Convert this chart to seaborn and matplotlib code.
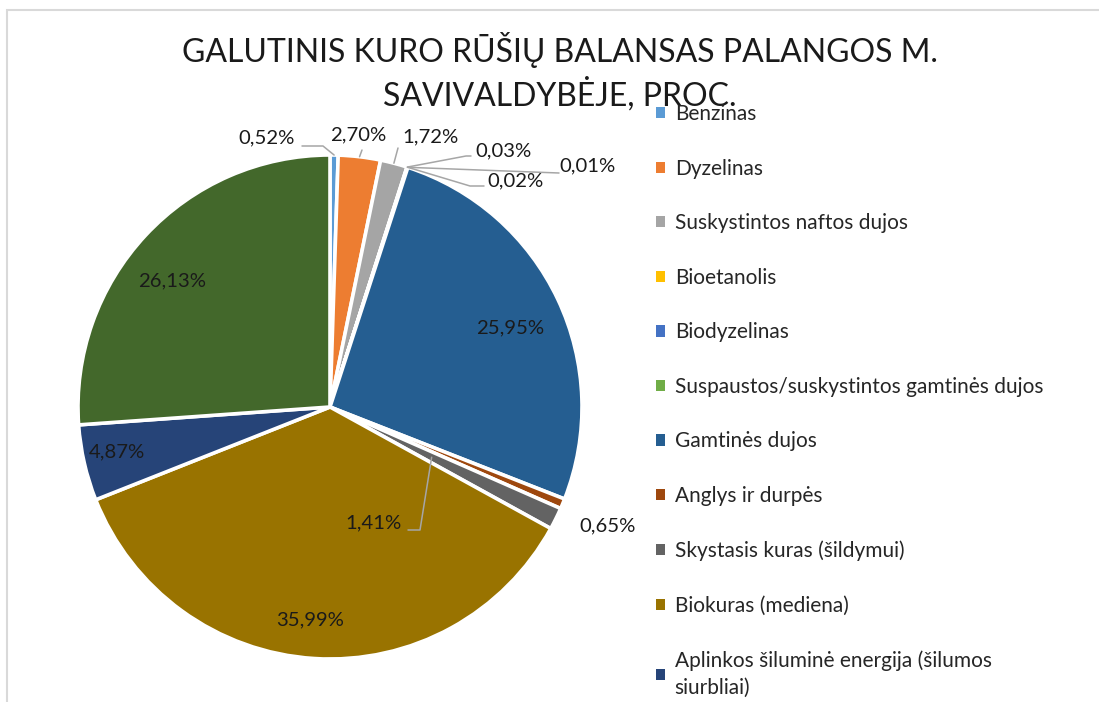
import numpy as np
import matplotlib.pyplot as plt
import matplotlib.patches as mpatches
import seaborn as sns

# Duomenys (proc.)
categories = [
    "Benzinas",
    "Dyzelinas",
    "Suskystintos naftos dujos",
    "Bioetanolis",
    "Biodyzelinas",
    "Suspaustos/suskystintos gamtinės dujos",
    "Gamtinės dujos",
    "Anglys ir durpės",
    "Skystasis kuras (šildymui)",
    "Biokuras (mediena)",
    "Aplinkos šiluminė energija (šilumos\nsiurbliai)",
    "Elektros energija",
]
shares = [0.52, 2.70, 1.72, 0.03, 0.02, 0.01, 25.95, 0.65, 1.41, 35.99, 4.87, 26.13]
colors = ["#5B9BD5", "#ED7D31", "#A5A5A5", "#FFC000", "#4472C4", "#70AD47",
          "#255E91", "#9E480E", "#636363", "#997300", "#264478", "#43682B"]

title = "GALUTINIS KURO RŪŠIŲ BALANSAS PALANGOS M.\nSAVIVALDYBĖJE, PROC."

sns.set_theme(style="white")
plt.rcParams["font.family"] = ["Lato", "DejaVu Sans"]

W, H = 1099, 702
fig = plt.figure(figsize=(W / 100, H / 100), dpi=100)

# pyrago centras ir spindulys pikseliais
cx, cy, R = 330, 407, 252
half = 262
ax = fig.add_axes([(cx - half) / W, (H - cy - half) / H, 2 * half / W, 2 * half / H])
lim = half / R
ax.axis("off")

wedges, _ = ax.pie(shares, colors=colors, startangle=90, counterclock=False, radius=1,
                   wedgeprops={"edgecolor": "white", "linewidth": 2.6})
ax.set_xlim(-lim, lim)
ax.set_ylim(-lim, lim)
ax.set_aspect("equal")


def px(x, y):  # pikseliai -> duomenų koordinatės
    return (x - cx) / R, (cy - y) / R


def mid_point(w, r=1.0):
    ang = np.deg2rad((w.theta1 + w.theta2) / 2)
    return r * np.cos(ang), r * np.sin(ang)


def fmt(v):
    return f"{v:.2f}".replace(".", ",") + "%"


lab_fs = 14.6
line_col = "#A6A6A6"

# vidinės etiketės
inside = {6: (510, 328), 9: (310, 620), 10: (117, 452), 11: (172, 281)}
for i, (x, y) in inside.items():
    ax.text(*px(x, y), fmt(shares[i]), ha="center", va="center", fontsize=lab_fs, color="#1a1a1a")

# išorinės etiketės su linijomis: teksto centras, linijos taškai (pikseliai)
outside = {
    0: ((267, 138), [(302, 146), (323, 146)]),
    1: ((358, 135), [(362, 150)]),
    2: ((431, 137), [(398, 148)]),
    3: ((504, 151), [(471, 156), (466, 156)]),
    4: ((516, 181), [(484, 186), (470, 186)]),
    5: ((588, 166), [(559, 173)]),
    7: ((608, 526), []),
    8: ((374, 523), [(408, 530), (420, 530)]),
}
for i, ((tx, ty), pts) in outside.items():
    ax.text(*px(tx, ty), fmt(shares[i]), ha="center", va="center", fontsize=lab_fs, color="#1a1a1a")
    if pts:
        r_end = 0.45 if i == 8 else 1.0
        xs = [px(*p)[0] for p in pts]
        ys = [px(*p)[1] for p in pts]
        ex, ey = mid_point(wedges[i], r_end)
        ax.plot(xs + [ex], ys + [ey], color=line_col, lw=1.1, clip_on=False, zorder=5)

# antraštė
fig.text(560 / W, 1 - 72 / H, title, ha="center", va="center", fontsize=23,
         linespacing=1.3, color="#1a1a1a")

# legenda
leg = fig.legend(wedges, categories, loc="upper left", bbox_to_anchor=(656 / W, 1 - 104 / H),
                 frameon=False, fontsize=15, handlelength=0.45, handleheight=0.45,
                 handletextpad=0.45, labelspacing=1.66, borderaxespad=0, borderpad=0)
for h in leg.legend_handles:
    h.set_edgecolor("none")
leg.get_texts()[10].set_linespacing(1.4)

# rėmelis
fig.add_artist(mpatches.Rectangle((7 / W, -0.1), 1.2, 1.1 - 10 / H, transform=fig.transFigure,
                                  fill=False, edgecolor="#D9D9D9", lw=1.5))

fig.savefig("out.png", dpi=100)
